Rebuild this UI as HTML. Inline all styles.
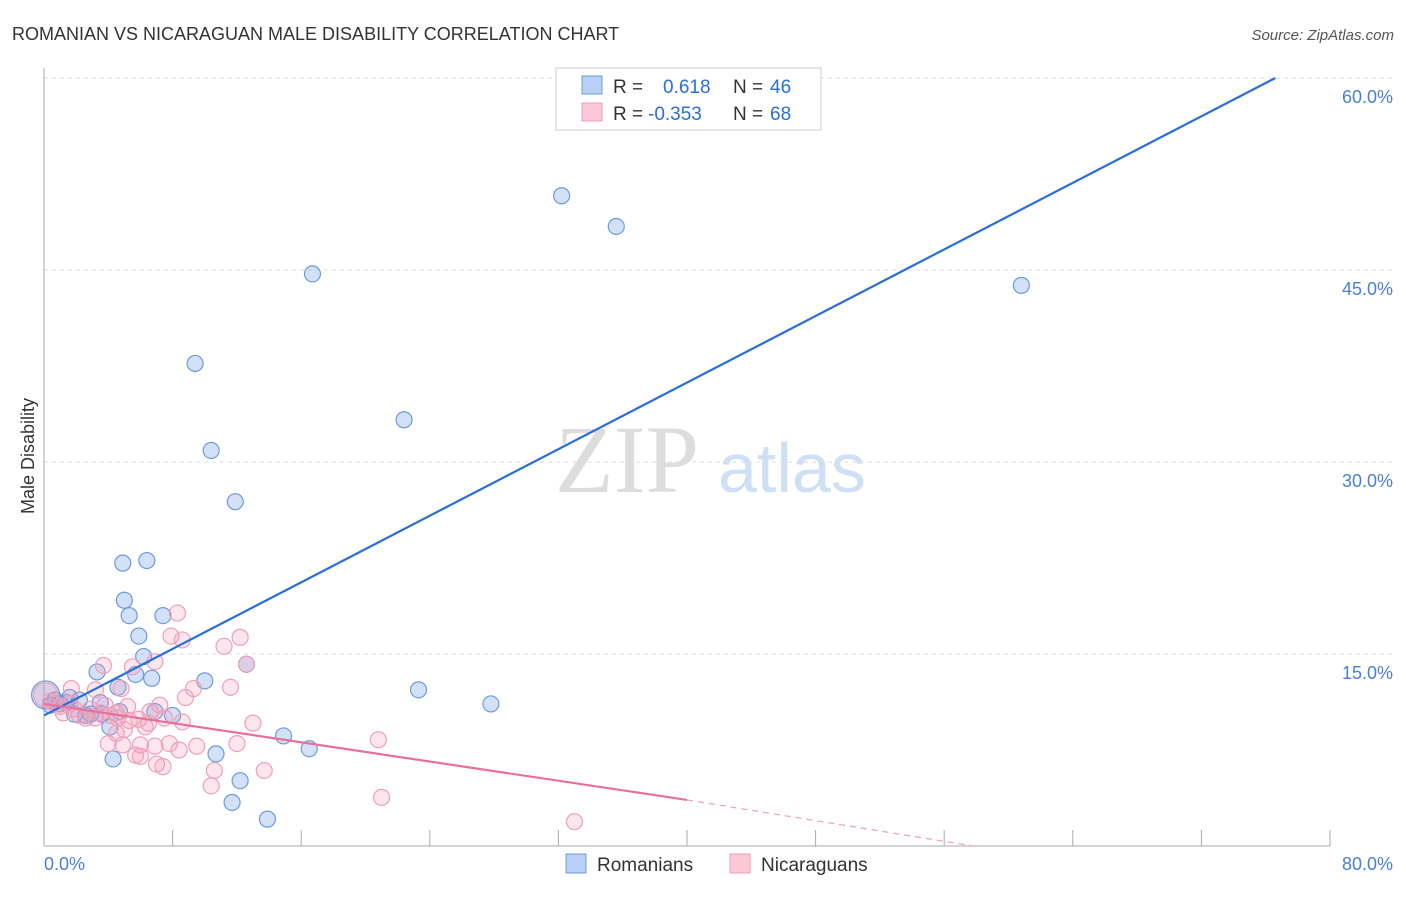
<!DOCTYPE html>
<html><head><meta charset="utf-8"><style>
body{margin:0;background:#fff;font-family:"Liberation Sans",sans-serif}
</style></head><body>
<svg id="chart" width="1406" height="892" xmlns="http://www.w3.org/2000/svg">
<text x="12" y="40" font-size="18" fill="#333">ROMANIAN VS NICARAGUAN MALE DISABILITY CORRELATION CHART</text>
<text x="1394" y="40" font-size="15" fill="#555" text-anchor="end" font-style="italic">Source: ZipAtlas.com</text>
<text x="0" y="0" transform="translate(34,456) rotate(-90)" font-size="18" fill="#333" text-anchor="middle">Male Disability</text>
<g id="grid"></g>
<text x="555" y="492" font-size="96" fill="#ddd" font-family="Liberation Serif">ZIP</text>
<text x="718" y="492" font-size="70" fill="#cfe0f5">atlas</text>
<g id="marks"></g>
<g>
<rect x="556" y="68" width="265" height="62" fill="#fff" stroke="#ccc"/>
<rect x="582" y="76" width="20" height="18" fill="#b8d2f5" stroke="#6a9be0"/>
<text x="613" y="93" font-size="19" fill="#333">R = </text><text x="663" y="93" font-size="19" fill="#2a6fd6">0.618</text>
<text x="733" y="93" font-size="19" fill="#333">N = </text><text x="770" y="93" font-size="19" fill="#2a6fd6">46</text>
<rect x="582" y="103" width="20" height="18" fill="#fbc8d8" stroke="#f0a0b8"/>
<text x="613" y="120" font-size="19" fill="#333">R = </text><text x="648" y="120" font-size="19" fill="#2a6fd6">-0.353</text>
<text x="733" y="120" font-size="19" fill="#333">N = </text><text x="770" y="120" font-size="19" fill="#2a6fd6">68</text>
</g>
<g>
<rect x="566" y="854" width="20" height="19" fill="#b8d2f5" stroke="#6a9be0"/>
<text x="597" y="871" font-size="19" fill="#333">Romanians</text>
<rect x="730" y="854" width="20" height="19" fill="#fbc8d8" stroke="#f0a0b8"/>
<text x="761" y="871" font-size="19" fill="#333">Nicaraguans</text>
</g>
</svg>
<script>
const xTicks=[0,8,16,24,32,40,48,56,64,72,80];
const yTicks=[15,30,45,60];
const romX=[32.2,35.6,16.7,60.8,9.4,22.4,10.4,11.9,4.9,6.4,5.0,5.3,7.4,5.9,6.2,3.3,5.7,6.7,4.6,10.0,12.6,23.3,27.8,8.0,6.9,2.2,3.5,1.4,0.4,1.0,2.9,4.1,4.3,10.7,14.9,16.5,12.2,11.7,13.9,0.1,3.6,1.9,2.6,0.7,4.7,1.6];
const romY=[50.8,48.4,44.7,43.8,37.7,33.3,30.9,26.9,22.1,22.3,19.2,18.0,18.0,16.4,14.8,13.6,13.4,13.1,12.4,12.9,14.2,12.2,11.1,10.2,10.5,11.4,11.2,11.2,11.0,11.1,10.3,9.3,6.8,7.2,8.6,7.6,5.1,3.4,2.1,11.8,10.3,10.3,10.2,11.4,10.5,11.6];
const nicX=[8.3,8.6,7.9,12.2,11.2,6.9,3.7,5.5,12.6,1.7,3.2,4.8,9.3,11.6,8.8,7.2,6.6,7.5,5.3,13.0,8.6,6.3,4.5,5.0,4.0,4.9,6.0,6.9,7.8,9.5,12.0,8.4,5.7,6.0,7.0,7.4,10.6,13.7,10.4,20.8,21.0,33.0,0.4,1.0,1.6,2.2,2.6,2.9,3.5,4.1,4.5,1.2,0.7,1.9,3.2,3.8,4.6,5.2,5.9,6.5,0.1];
const nicY=[18.2,16.1,16.4,16.3,15.6,14.4,14.1,14.0,14.2,12.3,12.2,12.3,12.3,12.4,11.6,11.0,10.5,10.0,9.8,9.6,9.7,9.3,8.8,9.1,8.0,7.9,7.9,7.8,8.0,7.8,8.0,7.5,7.1,7.0,6.4,6.2,5.9,5.9,4.7,8.3,3.8,1.9,11.3,10.9,11.1,10.2,10.0,10.7,10.4,10.2,10.4,10.4,11.1,10.7,10.0,11.0,10.0,10.9,9.9,9.6,11.8];
const romLine=[[0,10.2],[76.6,60]];
const nicLine=[[0,11.1],[40,3.6]];
const nicDash=[[40,3.6],[57.8,0]];
const NS='http://www.w3.org/2000/svg';
const sx=v=>44+v/80*1286, sy=v=>846-v/15*192;
function mk(t,a,p){const e=document.createElementNS(NS,t);for(const k in a)e.setAttribute(k,a[k]);p.appendChild(e);return e;}
const g=document.getElementById('grid'), m=document.getElementById('marks');
yTicks.forEach(v=>{
 const l=mk('line',{x1:44,x2:1394,y1:sy(v),y2:sy(v),stroke:'#ddd','stroke-dasharray':'4,4'},g);
 
 
 const t=mk('text',{x:1393,y:sy(v)+25,'font-size':18,fill:'#4a7fd4','text-anchor':'end'},g);
 t.textContent=v.toFixed(1)+'%';
 
 
});
mk('line',{x1:44,x2:1394,y1:78,y2:78,stroke:'#ddd','stroke-dasharray':'4,4'},g);
mk('line',{x1:44,x2:44,y1:68,y2:846,stroke:'#aaa'},g);
mk('line',{x1:44,x2:1330,y1:846,y2:846,stroke:'#aaa'},g);
xTicks.forEach(v=>{
 const l=mk('line',{x1:sx(v),x2:sx(v),y1:830,y2:846,stroke:'#aaa'},g);
 
 
});
[[0,'0.0%',44,'start'],[80,'80.0%',1393,'end']].forEach(d=>{
 const t=mk('text',{x:d[2],y:870,'font-size':18,fill:'#4a7fd4','text-anchor':d[3]},g);
 t.textContent=d[1];
 
 
});
romX.forEach((x,i)=>{
 const c=mk('circle',{cx:sx(x),cy:sy(romY[i]),r:i==39?14:8,fill:'rgba(110,155,230,0.3)',stroke:'#6a9be0','stroke-width':1.2},m);
 
 
});
nicX.forEach((x,i)=>{
 const c=mk('circle',{cx:sx(x),cy:sy(nicY[i]),r:i==60?12:8,fill:'rgba(245,150,180,0.25)',stroke:'#f0a0b8','stroke-width':1.2},m);
 
 
});
const l1=mk('line',{x1:sx(romLine[0][0]),y1:sy(romLine[0][1]),x2:sx(romLine[1][0]),y2:sy(romLine[1][1]),stroke:'#2a6fd6','stroke-width':2.2},m);


const l2=mk('line',{x1:sx(nicLine[0][0]),y1:sy(nicLine[0][1]),x2:sx(nicLine[1][0]),y2:sy(nicLine[1][1]),stroke:'#e8709a','stroke-width':2.2},m);


const l3=mk('line',{x1:sx(nicDash[0][0]),y1:sy(nicDash[0][1]),x2:sx(nicDash[1][0]),y2:sy(nicDash[1][1]),stroke:'#f0a0b8','stroke-width':1.2,'stroke-dasharray':'6,5'},m);


</script>
</body></html>
